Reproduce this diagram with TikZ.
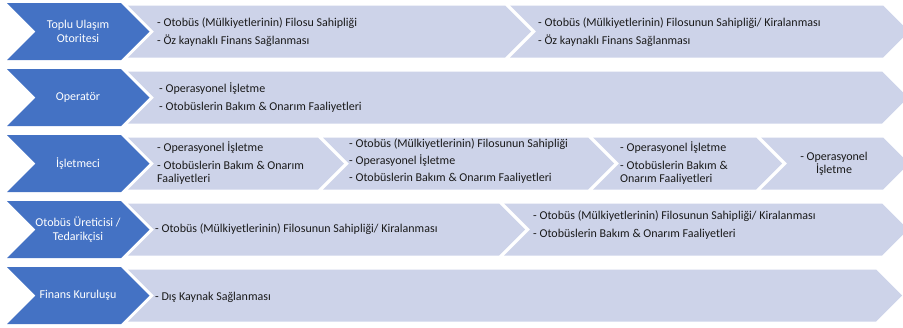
\documentclass[tikz,border=0pt]{standalone}
\usepackage{fontspec}
\setmainfont{Carlito}
\usetikzlibrary{calc, positioning}
\definecolor{xblue}{HTML}{4472C4}
\definecolor{xlight}{HTML}{CDD3E9}
\definecolor{xtext}{HTML}{1A1A1A}
\tikzset{
	actor/.style = {fill=xblue},
	role/.style = {fill=xlight},
	actorlabel/.style = {text=white, align=center, inner sep=0pt, font=\fontsize{12}{13.5}\selectfont},
	rolelabel/.style = {text=xtext, align=left, anchor=west, inner sep=0pt, font=\fontsize{12}{13}\selectfont},
}
% chevron band: style, left x, right x, top y, height
\newcommand\arrowband[5]{%
	\fill[#1] (#2,#4) -- (#3,#4) -- ({#3+#5/2},{#4+#5/2}) -- (#3,{#4+#5})
		-- (#2,{#4+#5}) -- ({#2+#5/2},{#4+#5/2}) -- cycle;}

\begin{document}
\begin{tikzpicture}[x=1pt, y=-1pt]
	\useasboundingbox (0,0) rectangle (903,327);
	\clip (0,0) rectangle (903,327);
	% actors
	\foreach \top/\lbl [count=\i] in {3/{Toplu Ulaşım\\Otoritesi}, 69/Operatör, 135/İşletmeci,
		201/{Otobüs Üreticisi /\\Tedarikçisi}, 267/Finans Kuruluşu}{
		\arrowband{actor}{7}{121}{\top}{57}
		\node[actorlabel] (actor\i) at (78,\top+28.5) {\lbl};
	}
	% roles
	\arrowband{role}{128}{505}{5.5}{52}
	\arrowband{role}{510}{883}{5.5}{52}
	\arrowband{role}{128}{882}{71.5}{52}
	\arrowband{role}{128}{318}{137.5}{52}
	\arrowband{role}{323}{588}{137.5}{52}
	\arrowband{role}{593}{756}{137.5}{52}
	\arrowband{role}{761}{883}{137.5}{52}
	\arrowband{role}{128}{499}{203.5}{52}
	\arrowband{role}{504}{882}{203.5}{52}
	\arrowband{role}{128}{876}{269.5}{52}

	\node[rolelabel] (auth1) at (157,32) {- Otobüs (Mülkiyetlerinin) Filosu Sahipliği\\[5pt]- Öz kaynaklı Finans Sağlanması};
	\node[rolelabel] (auth2) at (538,32) {- Otobüs (Mülkiyetlerinin) Filosunun Sahipliği/ Kiralanması\\[5pt]- Öz kaynaklı Finans Sağlanması};
	\node[rolelabel] (oper1) at (159,98) {- Operasyonel İşletme\\[5pt]- Otobüslerin Bakım \& Onarım Faaliyetleri};
	\node[rolelabel] (run1) at (157,163) {- Operasyonel İşletme\\[5pt]- Otobüslerin Bakım \& Onarım\\Faaliyetleri};
	\node[rolelabel] (run2) at (349,161) {- Otobüs (Mülkiyetlerinin) Filosunun Sahipliği\\[4pt]- Operasyonel İşletme\\[4pt]- Otobüslerin Bakım \& Onarım Faaliyetleri};
	\node[rolelabel] (run3) at (620,163) {- Operasyonel İşletme\\[5pt]- Otobüslerin Bakım \&\\Onarım Faaliyetleri};
	\node[rolelabel, anchor=center, align=center] (run4) at (834,164) {- Operasyonel\\İşletme};
	\node[rolelabel] (maker1) at (155,229) {- Otobüs (Mülkiyetlerinin) Filosunun Sahipliği/ Kiralanması};
	\node[rolelabel] (maker2) at (533,225) {- Otobüs (Mülkiyetlerinin) Filosunun Sahipliği/ Kiralanması\\[5pt]- Otobüslerin Bakım \& Onarım Faaliyetleri};
	\node[rolelabel] (fin1) at (155,297) {- Dış Kaynak Sağlanması};
\end{tikzpicture}
\end{document}
